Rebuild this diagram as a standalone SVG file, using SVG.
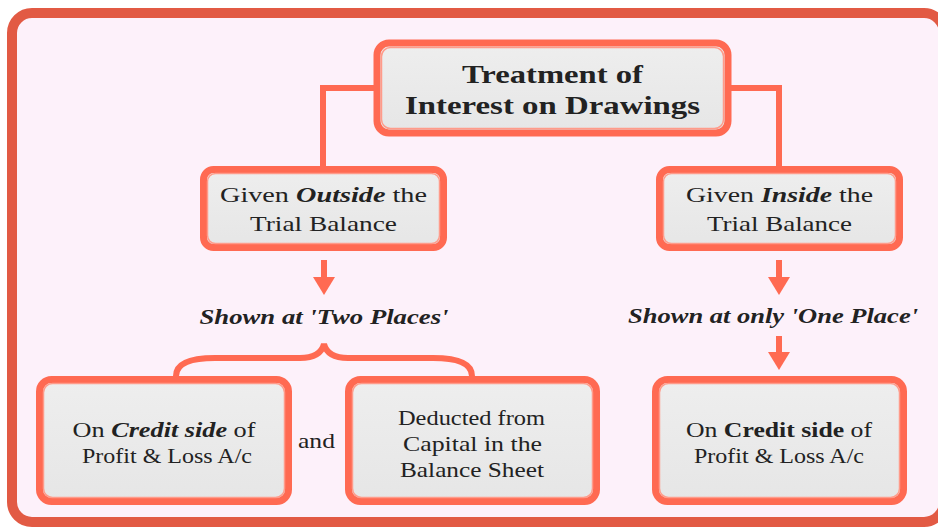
<svg xmlns="http://www.w3.org/2000/svg" width="938" height="529" viewBox="0 0 938 529">
<defs>
<linearGradient id="g" x1="0" y1="0" x2="0" y2="1">
<stop offset="0" stop-color="#eeeeee"/>
<stop offset="1" stop-color="#e6e6e6"/>
</linearGradient>
<marker id="ah" viewBox="0 0 18 22" refX="0" refY="11" markerWidth="18" markerHeight="22" orient="auto" markerUnits="userSpaceOnUse">
<path d="M0,0 L18,11 L0,22 Z" fill="#ff6a52"/>
</marker>
</defs>
<style>
.box{fill:url(#g);stroke:#ff6a52;stroke-width:7}
.inner{fill:none;stroke:#ff9b8a;stroke-width:1.5}
.t{font-family:"Liberation Serif","Times New Roman",serif;fill:#222;text-anchor:middle}
.title{font-size:25px;font-weight:bold}
.n{font-size:21px}
.bi{font-weight:bold;font-style:italic}
.b{font-weight:bold}
.lbl{font-size:20px;font-weight:bold;font-style:italic}
.conn{fill:none;stroke:#ff6a52;stroke-width:6}
</style>
<rect x="0" y="0" width="938" height="529" fill="#ffffff"/>
<rect id="frame" x="12" y="13" width="932" height="509" rx="20" fill="#fdf1fa" stroke="#e25a44" stroke-width="10"/>

<g id="connectors">
<path class="conn" d="M377,88 H323 V169"/>
<path class="conn" d="M728,88 H779 V169"/>
<path class="conn" d="M324,260 V277" marker-end="url(#ah)"/>
<path class="conn" d="M779,260 V277" marker-end="url(#ah)"/>
<path class="conn" d="M779,336 V352" marker-end="url(#ah)"/>
<path class="conn" stroke-width="5" d="M176,376 C176,364 188,358 215,358 H300 C316,358 322,352 324,344 C326,352 332,358 348,358 H433 C460,358 472,364 472,376"/>
</g>

<g id="title">
<rect class="box" x="377" y="43" width="351" height="90" rx="12"/>
<rect class="inner" x="381.5" y="47.5" width="342" height="81" rx="9"/>
<text class="t title" x="552.5" y="83" textLength="181" lengthAdjust="spacingAndGlyphs">Treatment of</text>
<text class="t title" x="552.5" y="114" textLength="295" lengthAdjust="spacingAndGlyphs">Interest on Drawings</text>
</g>

<g id="outside">
<rect class="box" x="203.5" y="169.5" width="240" height="78" rx="10"/>
<rect class="inner" x="207.5" y="173.5" width="232" height="70" rx="8"/>
<text class="t n" x="323.5" y="202" textLength="207" lengthAdjust="spacingAndGlyphs">Given <tspan class="bi">Outside</tspan> the</text>
<text class="t n" x="323.5" y="231" textLength="147" lengthAdjust="spacingAndGlyphs">Trial Balance</text>
</g>

<g id="inside">
<rect class="box" x="659.5" y="169.5" width="240" height="78" rx="10"/>
<rect class="inner" x="663.5" y="173.5" width="232" height="70" rx="8"/>
<text class="t n" x="779.5" y="202" textLength="187" lengthAdjust="spacingAndGlyphs">Given <tspan class="bi">Inside</tspan> the</text>
<text class="t n" x="779.5" y="231" textLength="145" lengthAdjust="spacingAndGlyphs">Trial Balance</text>
</g>

<g id="two-places">
<text class="t lbl" x="324" y="324" textLength="249" lengthAdjust="spacingAndGlyphs">Shown at 'Two Places'</text>
</g>

<g id="one-place">
<text class="t lbl" x="773" y="323" textLength="290" lengthAdjust="spacingAndGlyphs">Shown at only 'One Place'</text>
</g>

<g id="credit-left">
<rect class="box" x="39.5" y="379.5" width="249" height="122" rx="12"/>
<rect class="inner" x="43.5" y="383.5" width="241" height="114" rx="9"/>
<text class="t n" x="164" y="437" textLength="183" lengthAdjust="spacingAndGlyphs">On <tspan class="bi">Credit side</tspan> of</text>
<text class="t n" x="167" y="463" textLength="170" lengthAdjust="spacingAndGlyphs">Profit &amp; Loss A/c</text>
</g>

<g id="and">
<text class="t n" x="316.5" y="448" textLength="37" lengthAdjust="spacingAndGlyphs">and</text>
</g>

<g id="deducted">
<rect class="box" x="348.5" y="379.5" width="248" height="122" rx="12"/>
<rect class="inner" x="352.5" y="383.5" width="240" height="114" rx="9"/>
<text class="t n" x="471.5" y="425" textLength="147" lengthAdjust="spacingAndGlyphs">Deducted from</text>
<text class="t n" x="472.5" y="451" textLength="139" lengthAdjust="spacingAndGlyphs">Capital in the</text>
<text class="t n" x="472" y="477" textLength="144" lengthAdjust="spacingAndGlyphs">Balance Sheet</text>
</g>

<g id="credit-right">
<rect class="box" x="655.5" y="379.5" width="248" height="122" rx="12"/>
<rect class="inner" x="659.5" y="383.5" width="240" height="114" rx="9"/>
<text class="t n" x="779" y="437" textLength="186" lengthAdjust="spacingAndGlyphs">On <tspan class="b">Credit side</tspan> of</text>
<text class="t n" x="779" y="463" textLength="170" lengthAdjust="spacingAndGlyphs">Profit &amp; Loss A/c</text>
</g>
</svg>
